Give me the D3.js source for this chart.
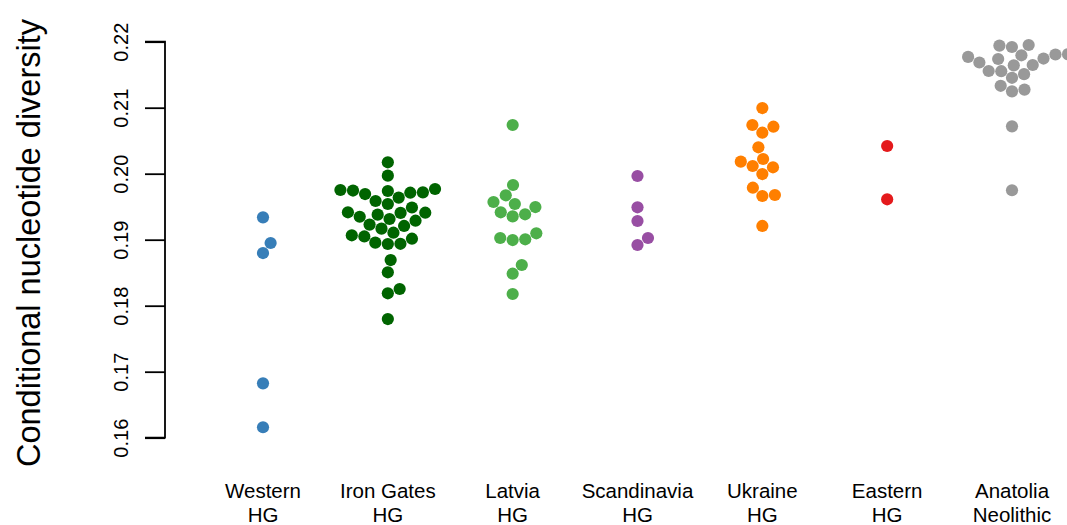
<!DOCTYPE html>
<html>
<head>
<meta charset="utf-8">
<script src="https://cdn.jsdelivr.net/npm/d3@7"></script>
<style>
  body { margin: 0; background: #fff; }
  svg { display: block; font-family: "Liberation Sans", Arial, Helvetica, sans-serif; }
</style>
</head>
<body>
<svg id="chart" width="1067" height="525"></svg>
<script>
// groups on the x axis, two line labels
const groups = ["Western HG", "Iron Gates HG", "Latvia HG", "Scandinavia HG", "Ukraine HG", "Eastern HG", "Anatolia Neolithic"];
const labelTop = ["Western", "Iron Gates", "Latvia", "Scandinavia", "Ukraine", "Eastern", "Anatolia"];
const labelBottom = ["HG", "HG", "HG", "HG", "HG", "HG", "Neolithic"];
const colors = ["#377EB8", "#006400", "#4DAF4A", "#984EA3", "#FF7F00", "#E41A1C", "#999999"];

// conditional nucleotide diversity per sample
const westernHG = [0.19339, 0.18950, 0.18798, 0.16824, 0.16158];
const ironGatesHG = [0.20173, 0.19970, 0.19753, 0.19738, 0.19692, 0.19745, 0.19638, 0.19712, 0.19718, 0.19768,
  0.19586, 0.19541, 0.19488, 0.19409, 0.19348, 0.19379, 0.19415, 0.19406, 0.19314, 0.19229,
  0.19288, 0.19208, 0.19167, 0.19067, 0.19049, 0.19106, 0.18955, 0.18935, 0.18938, 0.19015,
  0.18692, 0.18506, 0.18188, 0.18253, 0.17798];
const latviaHG = [0.20738, 0.19829, 0.19673, 0.19571, 0.19541, 0.19495, 0.19415, 0.19353, 0.19385, 0.19097,
  0.19026, 0.18995, 0.19006, 0.18617, 0.18485, 0.18177];
const scandinaviaHG = [0.19965, 0.19491, 0.19283, 0.19026, 0.18920];
const ukraineHG = [0.20995, 0.20738, 0.20712, 0.20621, 0.20400, 0.20182, 0.20117, 0.20223, 0.20097, 0.19995,
  0.19788, 0.19662, 0.19677, 0.19208];
const easternHG = [0.20420, 0.19612];
const anatoliaN = [0.21770, 0.21685, 0.21556, 0.21941, 0.21745, 0.21553, 0.21920, 0.21806, 0.21950, 0.21647,
  0.21508, 0.21453, 0.21332, 0.21248, 0.21274, 0.21642, 0.21738, 0.21794, 0.21811, 0.20718, 0.19749];

const yTicks = [0.16, 0.17, 0.18, 0.19, 0.20, 0.21, 0.22];

const allValues = [westernHG, ironGatesHG, latviaHG, scandinaviaHG, ukraineHG, easternHG, anatoliaN];

const svg = d3.select("#chart");

const y = d3.scaleLinear().domain([0.16, 0.22]).range([437.7, 41.7]);
const x = d3.scalePoint().domain(groups).range([263, 1012]);

const dotR = 6.1;
const spacing = 12.6;

// swarm layout (ascending priority), like R's beeswarm
function swarm(vals) {
  const order = d3.range(vals.length).sort((a, b) => vals[a] - vals[b]);
  const placed = [];
  const off = new Array(vals.length);
  order.forEach(i => {
    const yi = y(vals[i]);
    const near = placed.filter(p => Math.abs(p.y - yi) < spacing);
    const plus = near.map(p => p.x + Math.sqrt(spacing * spacing - (p.y - yi) ** 2));
    const minus = near.map(p => p.x - Math.sqrt(spacing * spacing - (p.y - yi) ** 2));
    const cand = [0].concat(plus, minus);
    let best = Infinity;
    cand.forEach(c => {
      const bad = near.some(p => (c - p.x) ** 2 + (yi - p.y) ** 2 < spacing * spacing * 0.999);
      if (!bad && Math.abs(c) < Math.abs(best)) best = c;
    });
    off[i] = best;
    placed.push({x: best, y: yi});
  });
  return off;
}

const points = [];
allValues.forEach((vals, gi) => {
  const off = swarm(vals);
  vals.forEach((v, i) => points.push({g: groups[gi], v: v, dx: off[i], c: colors[gi]}));
});

// y axis
const yAxis = d3.axisLeft(y).tickValues(yTicks).tickSize(20).tickPadding(10).tickFormat(d3.format(".2f"));
const ax = svg.append("g").attr("transform", "translate(165,0)").call(yAxis);
ax.select(".domain").attr("stroke", "#000").attr("stroke-width", 1.8).attr("d", "M-20," + y(0.16) + "H0V" + y(0.22) + "H-20");
ax.selectAll(".tick line").attr("stroke", "#000").attr("stroke-width", 1.8);
ax.selectAll(".tick text")
  .attr("font-size", 20)
  .attr("fill", "#000")
  .attr("x", null).attr("dy", null)
  .attr("text-anchor", "middle")
  .attr("transform", "translate(-37,0) rotate(-90)");

svg.append("text")
  .attr("transform", "translate(40,243) rotate(-90)")
  .attr("text-anchor", "middle")
  .attr("font-size", 32.5)
  .attr("fill", "#000")
  .text("Conditional nucleotide diversity");

// dots
svg.append("g").selectAll("circle")
  .data(points)
  .join("circle")
  .attr("cx", d => x(d.g) + d.dx)
  .attr("cy", d => y(d.v))
  .attr("r", dotR)
  .attr("fill", d => d.c);

// group labels
const lab = svg.append("g").selectAll("text")
  .data(groups)
  .join("text")
  .attr("text-anchor", "middle")
  .attr("font-size", 20.5)
  .attr("fill", "#000");
lab.append("tspan").attr("x", d => x(d)).attr("y", 498).text((d, i) => labelTop[i]);
lab.append("tspan").attr("x", d => x(d)).attr("y", 522).text((d, i) => labelBottom[i]);
</script>
</body>
</html>
